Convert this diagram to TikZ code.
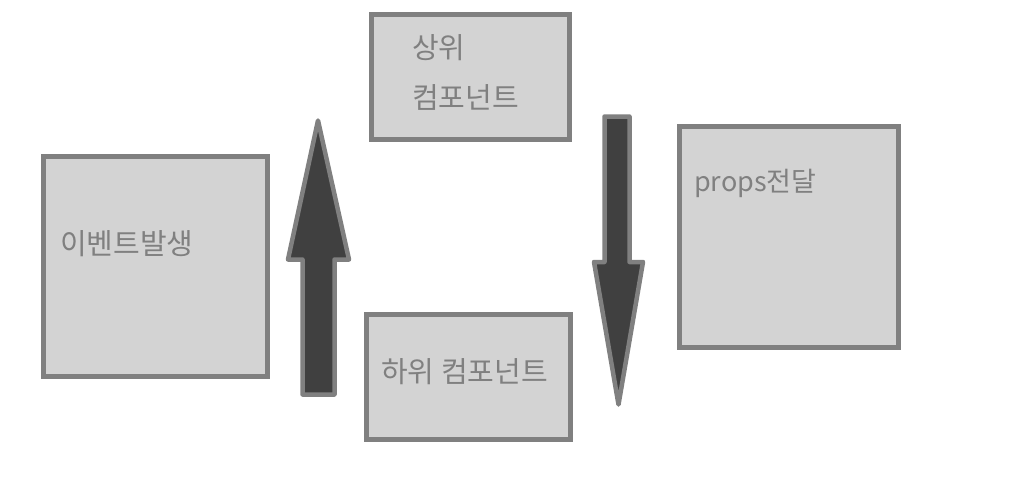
\documentclass[tikz,border=0pt]{standalone}
\usepackage{fontspec}
\setmainfont{Noto Sans CJK KR}
\usetikzlibrary{positioning}
\definecolor{BoxFill}{RGB}{211,211,211}
\definecolor{BoxLine}{RGB}{128,128,128}
\definecolor{ArrowFill}{RGB}{64,64,64}
\tikzset{
  panel/.style={draw=BoxLine, fill=BoxFill, line width=4.5pt, inner sep=0pt},
  caption/.style={text=BoxLine, font=\fontsize{29}{50}\selectfont, inner sep=0pt, anchor=base west, align=left},
  blockarrow/.style={draw=BoxLine, fill=ArrowFill, line width=4.5pt, line join=round}
}
\begin{document}
\begin{tikzpicture}[x=1pt,y=-1pt]
\useasboundingbox[fill=white] (0,0) rectangle (1035,490);
\node[panel, minimum width=224pt, minimum height=220pt] (event) at (155.5,266.5) {};
\node[panel, minimum width=198pt, minimum height=125pt] (parent) at (470.5,77) {};
\node[panel, minimum width=204pt, minimum height=125pt] (child) at (468.5,377) {};
\node[panel, minimum width=219pt, minimum height=221pt] (props) at (789,237) {};

\node[caption] (event-text) at (60,254.5) {이벤트발생};
\node[caption] (parent-text) at (412,108.5) {상위\\컴포넌트};
\node[caption] (child-text) at (381,382.5) {하위 컴포넌트};
\node[caption, font=\fontsize{27}{50}\selectfont] (props-text) at (694,191.5) {props전달};

% up: child -> parent
\draw[blockarrow] (302.5,394.5) -- (302.5,259.5) -- (288,259.5) -- (318,120.5)
  -- (349,259.5) -- (334.5,259.5) -- (334.5,394.5) -- cycle;
% down: parent -> child
\draw[blockarrow] (604.5,116.5) -- (604.5,262) -- (594,262) -- (618.5,404.5)
  -- (643,262) -- (629.5,262) -- (629.5,116.5) -- cycle;
\end{tikzpicture}
\end{document}
